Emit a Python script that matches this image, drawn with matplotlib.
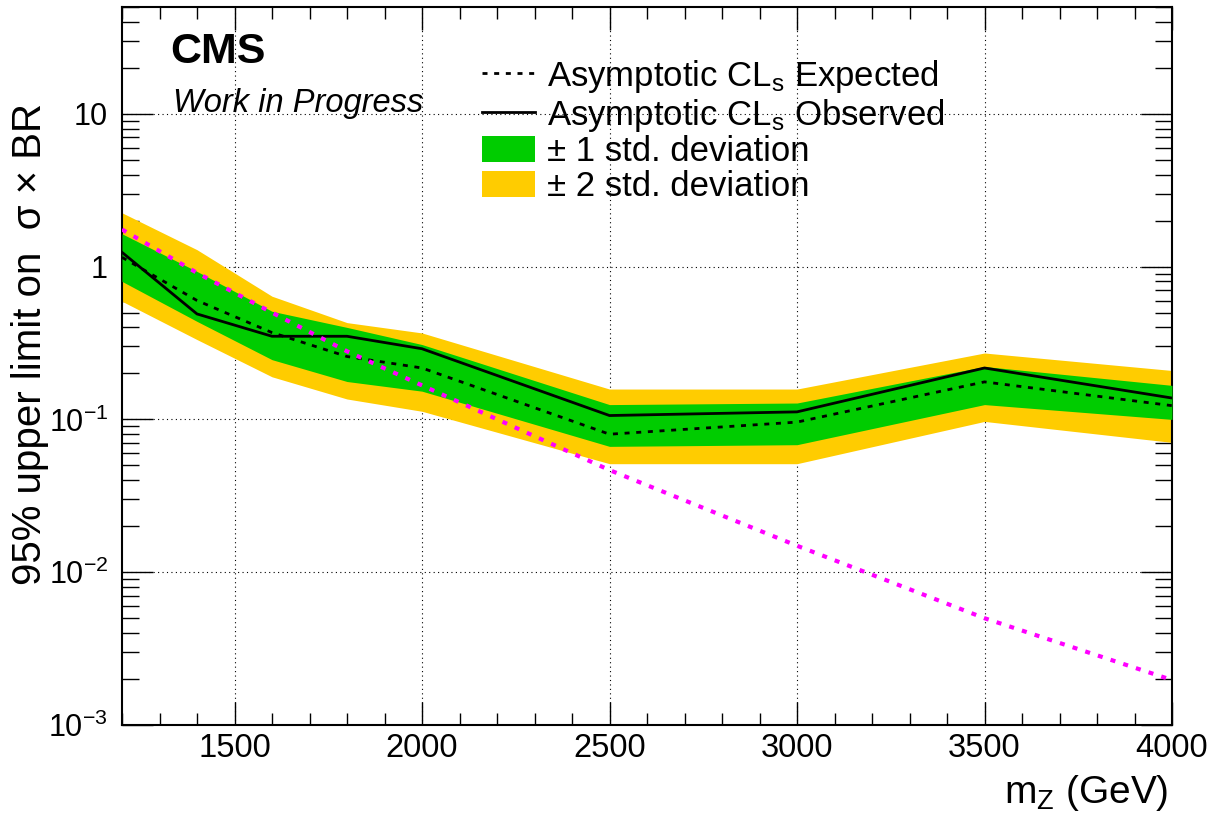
import math
import matplotlib
matplotlib.use("Agg")
import matplotlib.pyplot as plt
from matplotlib.lines import Line2D
from matplotlib.patches import Patch
from matplotlib.ticker import (LogLocator, MultipleLocator, FuncFormatter,
                               NullFormatter)

# Z' mass points (GeV)
mass = [1200, 1400, 1600, 1800, 2000, 2500, 3000, 3500, 4000]

# 95% CL upper limits on sigma x BR
observed = [1.24, 0.49, 0.35, 0.35, 0.29, 0.106, 0.112, 0.217, 0.138]
expected = [1.15, 0.60, 0.37, 0.258, 0.217, 0.080, 0.096, 0.176, 0.123]
exp_1sig_up = [1.64, 0.93, 0.51, 0.40, 0.309, 0.125, 0.128, 0.222, 0.167]
exp_1sig_dn = [0.80, 0.438, 0.246, 0.177, 0.153, 0.0666, 0.0683, 0.125, 0.100]
exp_2sig_up = [2.25, 1.29, 0.64, 0.43, 0.368, 0.158, 0.158, 0.272, 0.209]
exp_2sig_dn = [0.593, 0.333, 0.19, 0.136, 0.113, 0.0513, 0.0513, 0.097, 0.0707]

# Theory cross-section
theory = [1.75, 0.91, 0.50, 0.279, 0.167, 0.0466, 0.0149, 0.0050, 0.00197]

legend_labels = [r"Asymptotic CL$_\mathrm{s}$ Expected",
                 r"Asymptotic CL$_\mathrm{s}$ Observed",
                 "± 1 std. deviation",
                 "± 2 std. deviation"]

plt.rcParams["font.family"] = ["Liberation Sans", "DejaVu Sans"]
plt.rcParams["mathtext.fontset"] = "custom"
plt.rcParams["mathtext.rm"] = "Liberation Sans"
plt.rcParams["mathtext.it"] = "Liberation Sans:italic"
plt.rcParams["mathtext.bf"] = "Liberation Sans:bold"

GREEN = "#00cc00"
YELLOW = "#ffcc00"
MAGENTA = "#ff00ff"

W, H = 1222, 818
fig = plt.figure(figsize=(W / 100, H / 100), dpi=100)
ax = fig.add_axes([122 / W, 93 / H, 1050 / W, 718 / H])

ax.fill_between(mass, exp_2sig_dn, exp_2sig_up, color=YELLOW, lw=0, zorder=2)
ax.fill_between(mass, exp_1sig_dn, exp_1sig_up, color=GREEN, lw=0, zorder=3)
ax.plot(mass, expected, color="black", lw=2, linestyle=(0, (1.8, 2.4)), zorder=4)
ax.plot(mass, observed, color="black", lw=2, zorder=5)
ax.plot(mass, theory, color=MAGENTA, lw=3, linestyle=(0, (1.2, 2.0)), zorder=6)

ax.set_yscale("log")
ax.set_xlim(1200, 4000)
ax.set_ylim(1e-3, 50)

ax.xaxis.set_major_locator(MultipleLocator(500))
ax.xaxis.set_minor_locator(MultipleLocator(100))
ax.yaxis.set_major_locator(LogLocator(base=10, numticks=10))
ax.yaxis.set_minor_locator(LogLocator(base=10, subs=range(2, 10), numticks=10))
ax.yaxis.set_minor_formatter(NullFormatter())


def ylab(v, _):
    e = int(round(math.log10(v)))
    if e >= 1:
        return "10"
    if e == 0:
        return "1"
    return r"$10^{%d}$" % e


ax.yaxis.set_major_formatter(FuncFormatter(ylab))
ax.xaxis.set_major_formatter(FuncFormatter(lambda v, _: "%d" % v))

ax.grid(which="major", color="black", lw=0.8, linestyle=(0, (1, 3)))
ax.set_axisbelow(True)

ax.tick_params(which="both", direction="in", top=True, right=True, width=1.0,
               color="black")
ax.tick_params(axis="y", which="major", length=22, pad=10, labelsize=22)
ax.tick_params(axis="y", which="minor", length=12)
ax.tick_params(axis="x", which="major", length=16.5, pad=6, labelsize=23.5)
ax.tick_params(axis="x", which="minor", length=8.5)
for s in ax.spines.values():
    s.set_linewidth(1.5)

ax.text((170 - 122) / 1050, (725 - 63) / 718, "CMS", transform=ax.transAxes,
        fontsize=31, fontweight="bold", va="baseline", ha="left")
ax.text((173 - 122) / 1050, (725 - 112) / 718, "Work in Progress",
        transform=ax.transAxes, fontsize=23.5, style="italic",
        va="baseline", ha="left")

handles = [Line2D([], [], color="black", lw=2, linestyle=(0, (1.8, 2.4))),
           Line2D([], [], color="black", lw=2),
           Patch(facecolor=GREEN, edgecolor="none"),
           Patch(facecolor=YELLOW, edgecolor="none")]
ax.legend(handles, legend_labels, loc="upper left",
          bbox_to_anchor=((482 - 122) / 1050, (725 - 58) / 718),
          frameon=False, fontsize=25, handlelength=1.53, handleheight=0.78,
          handletextpad=0.35, labelspacing=0.05, borderpad=0, borderaxespad=0)

fig.text(1168 / W, (H - 803) / H, r"m$_\mathrm{Z}$ (GeV)", fontsize=28,
         ha="right", va="baseline")
fig.text(30 / W, (H - 103) / H, "95% upper limit on  σ × BR",
         fontsize=29, rotation=90, ha="center", va="top")

fig.savefig("out.png", dpi=100)
